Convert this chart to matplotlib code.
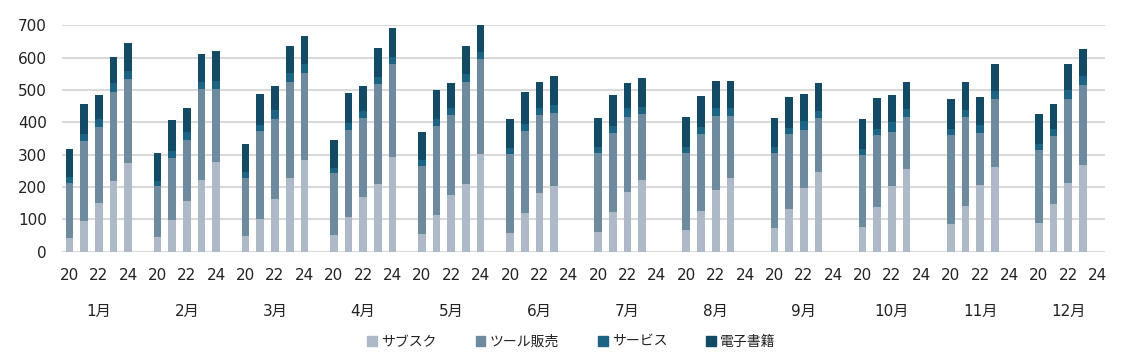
import matplotlib.pyplot as plt
from matplotlib.patches import Patch
from matplotlib.transforms import blended_transform_factory

plt.rcParams['font.family'] = ['DejaVu Sans', 'Noto Sans CJK JP']

# Data: one list per month, one value per year (20..24); 24 missing from 6月 on
months = ["1月", "2月", "3月", "4月", "5月", "6月", "7月", "8月", "9月", "10月", "11月", "12月"]
year_labels = ["20", "", "22", "", "24"]
series_names = ["サブスク", "ツール販売", "サービス", "電子書籍"]

subsc = [[43, 95, 152, 219, 273], [45, 98, 157, 222, 277], [47, 101, 162, 228, 285],
         [51, 107, 169, 209, 292], [54, 113, 175, 209, 301], [58, 119, 180, 203],
         [61, 123, 185, 222], [67, 127, 191, 228], [72, 132, 196, 245],
         [77, 137, 203, 255], [86, 142, 207, 263], [89, 147, 211, 267]]
tool = [[170, 247, 235, 275, 261], [158, 193, 188, 280, 226], [181, 272, 249, 297, 268],
        [193, 270, 245, 310, 288], [212, 276, 248, 315, 295], [244, 255, 243, 226],
        [244, 245, 233, 204], [238, 237, 230, 193], [233, 232, 180, 169],
        [222, 224, 167, 163], [276, 276, 160, 209], [225, 211, 260, 248]]
service = [[19, 21, 25, 27, 26], [17, 21, 26, 24, 26], [18, 20, 26, 27, 27],
           [16, 21, 22, 22, 23], [18, 20, 23, 25, 23], [18, 21, 23, 24],
           [19, 22, 25, 22], [20, 23, 24, 24], [18, 20, 28, 21],
           [20, 20, 32, 23], [16, 20, 24, 24], [20, 22, 29, 29]]
ebook = [[86, 94, 72, 82, 86], [86, 96, 73, 86, 91], [88, 95, 77, 85, 87],
         [87, 92, 78, 88, 89], [87, 91, 77, 88, 85], [90, 99, 79, 90],
         [90, 95, 79, 88], [93, 94, 83, 83], [90, 93, 85, 87],
         [91, 93, 83, 84], [94, 88, 87, 84], [93, 78, 81, 84]]

colors = ["#adb9c6", "#6e8a9f", "#1c6384", "#134a66"]

fig = plt.figure(figsize=(11.25, 3.58), dpi=100)
ax = fig.add_axes([0.0551, 0.297, 0.9271, 0.632])

slots = 6
for m in range(len(months)):
    bottom = [0] * len(subsc[m])
    for data, col in zip([subsc, tool, service, ebook], colors):
        vals = data[m]
        xs = [m * slots + k for k in range(len(vals))]
        ax.bar(xs, vals, width=0.52, bottom=bottom, color=col, zorder=3)
        bottom = [b + v for b, v in zip(bottom, vals)]

ax.set_xlim(-0.5, len(months) * slots - 1.5)
ax.set_ylim(0, 700)
ax.set_yticks(range(0, 701, 100))
ax.grid(axis='y', color='#d9d9d9', linewidth=1.5, zorder=0)
for s in ax.spines.values():
    s.set_visible(False)

xt, xl = [], []
for m in range(len(months)):
    for k, lab in enumerate(year_labels):
        if lab:
            xt.append(m * slots + k)
            xl.append(lab)
ax.set_xticks(xt)
ax.set_xticklabels(xl)
ax.tick_params(axis='both', length=0, labelsize=11, colors='#222222')
ax.tick_params(axis='y', pad=11)
ax.tick_params(axis='x', pad=12)

trans = blended_transform_factory(ax.transData, ax.transAxes)
for m, name in enumerate(months):
    ax.text(m * slots + 2, -0.265, name, transform=trans, ha='center', va='center',
            fontsize=11, color='#222222')

handles = [Patch(color=c) for c in colors]
fig.legend(handles, series_names, loc='center', bbox_to_anchor=(0.508, 0.045), ncol=4,
           frameon=False, handlelength=0.7, handleheight=0.7, handletextpad=0.3,
           columnspacing=2.8, prop={'family': ['Noto Sans CJK JP'], 'size': 10},
           labelcolor='#222222')

fig.savefig("out.png", dpi=100)
